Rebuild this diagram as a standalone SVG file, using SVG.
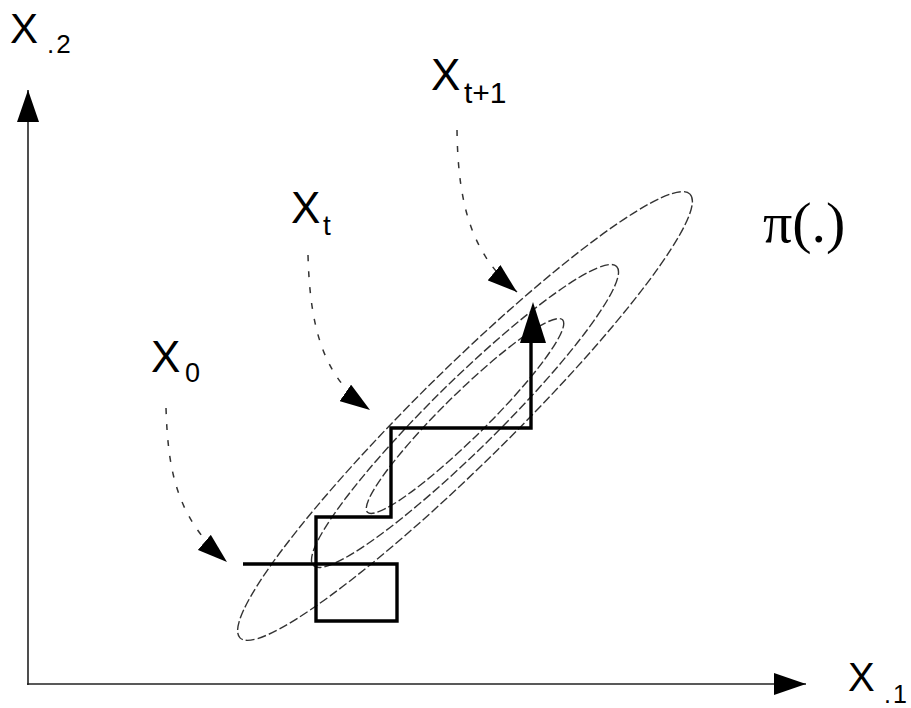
<svg xmlns="http://www.w3.org/2000/svg" width="911" height="708" viewBox="0 0 911 708">
<style>
.axis{stroke:#222;stroke-width:1.6;fill:none}
.walk{stroke:#000;stroke-width:3.4;fill:none;stroke-linejoin:miter}
.ell{stroke:#333;stroke-width:1.4;fill:none;stroke-dasharray:9 3}
.pointer{stroke:#333;stroke-width:1.5;fill:none;stroke-dasharray:6 10}
.lbl{font-family:"Liberation Sans",Arial,sans-serif;fill:#000}
.pi{font-family:"Liberation Serif","Times New Roman",serif;fill:#000}
</style>
<defs>
<marker id="head" viewBox="0 0 30 20" refX="30" refY="10" markerWidth="30" markerHeight="20" markerUnits="userSpaceOnUse" orient="auto">
<path d="M0,0 L30,10 L0,20 Z" fill="#000"/>
</marker>
<marker id="axhead" viewBox="0 0 32 22" refX="32" refY="11" markerWidth="32" markerHeight="22" markerUnits="userSpaceOnUse" orient="auto">
<path d="M0,0 L32,11 L0,22 Z" fill="#000"/>
</marker>
</defs>

<g id="axes">
<path class="axis" d="M28,685 V90" marker-end="url(#axhead)"/>
<path class="axis" d="M27,684 H806" marker-end="url(#axhead)"/>
</g>

<g id="density">
<g transform="translate(465,416) rotate(-44.6)">
<ellipse class="ell" cx="0" cy="0" rx="316" ry="47"/>
<ellipse class="ell" cx="0" cy="0" rx="213" ry="34"/>
<ellipse class="ell" cx="0" cy="0" rx="137" ry="22"/>
</g>
</g>

<g id="chain">
<path class="walk" d="M243,564 H397 V621 H316 V517 H391 V428 H531 V343"/>
<polygon points="533,302 520,343 546,343" fill="#000"/>
</g>

<g id="connectors">
<path class="pointer" d="M166,408 C168,470 176,518 227,562" marker-end="url(#head)"/>
<path class="pointer" d="M308,255 C310,330 324,378 370,410" marker-end="url(#head)"/>
<path class="pointer" d="M457,130 C458,210 474,256 517,292" marker-end="url(#head)"/>
</g>

<g id="label-x2">
<text class="lbl" x="10" y="43" font-size="42">X</text>
<text class="lbl" x="47" y="53" font-size="26" letter-spacing="2">.2</text>
</g>
<g id="label-x1">
<text class="lbl" x="848" y="691" font-size="40">X</text>
<text class="lbl" x="884" y="703" font-size="25" letter-spacing="2">.1</text>
</g>
<g id="label-x0">
<text class="lbl" x="151" y="372" font-size="44">X</text>
<text class="lbl" x="185" y="382" font-size="27">0</text>
</g>
<g id="label-xt">
<text class="lbl" x="291" y="223" font-size="44">X</text>
<text class="lbl" x="323" y="235" font-size="28">t</text>
</g>
<g id="label-xt1">
<text class="lbl" x="431" y="90" font-size="44">X</text>
<text class="lbl" x="464" y="103" font-size="30">t+1</text>
</g>
<g id="label-pi">
<text class="pi" x="763" y="242" font-size="58">π(.)</text>
</g>
</svg>
